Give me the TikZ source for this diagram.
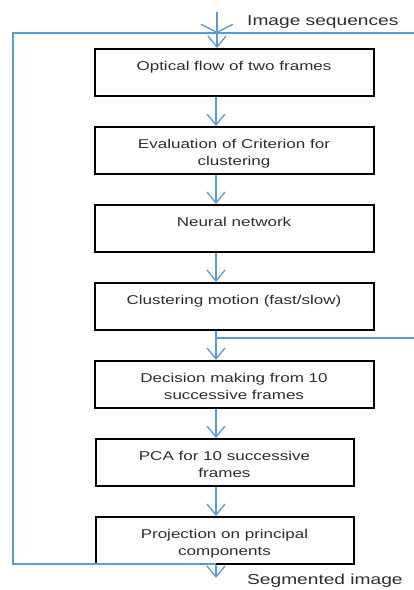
\documentclass[tikz,border=0pt]{standalone}
\usepackage{fontspec}
\setmainfont[FakeStretch=1.33]{Liberation Sans}
\usepackage{tikz}
\usetikzlibrary{arrows.meta,positioning}
\definecolor{flowblue}{RGB}{91,155,213}
\definecolor{textgrey}{RGB}{45,45,45}
\tikzstyle{blueline} = [line width=1.3pt, color=flowblue]
\tikzstyle{arrow} = [blueline, -{Straight Barb[length=11pt,width=18pt]}]
\tikzstyle{stage} = [rectangle, draw=black, line width=2pt, inner sep=0pt, minimum width=279pt, minimum height=47pt, text=textgrey, font=\fontsize{12.8}{17.5}\selectfont]
\tikzstyle{caption} = [anchor=base west, inner sep=0pt, text=textgrey, font=\fontsize{14.4}{17}\selectfont]
\newcommand{\stagetext}[2][279pt]{\parbox[t][47pt][t]{#1}{\centering\rule{0pt}{21pt}#2}}

\begin{document}
\begin{tikzpicture}[x=1pt, y=-1pt]
\useasboundingbox (0,0) rectangle (414,590);

% Processing stages
\node (optflow) [stage, anchor=north] at (234,48) {\stagetext{Optical flow of two frames}};
\node (crit) [stage, below=29pt of optflow] {\stagetext{Evaluation of Criterion for\\ clustering}};
\node (net) [stage, below=29pt of crit] {\stagetext{Neural network}};
\node (clus) [stage, below=29pt of net] {\stagetext{Clustering motion (fast/slow)}};
\node (dec) [stage, below=29pt of clus] {\stagetext{Decision making from 10\\ successive frames}};
\node (pca) [stage, below=29pt of dec.south west, anchor=north west, xshift=1pt, minimum width=258pt] {\stagetext[258pt]{PCA for 10 successive\\ frames}};
\node (proj) [stage, below=29pt of pca, minimum width=258pt] {\stagetext[258pt]{Projection on principal\\ components}};

% Input and output
\node (insrc) [caption] at (247,25) {Image sequences};
\node (outlbl) [caption] at (247,584) {Segmented image};

\coordinate (axis) at (216,0);
\coordinate (in) at (217,12);
\coordinate (join) at (217,33);
\coordinate (topleft) at (13,33);
\coordinate (topright) at (414,33);
\coordinate (botleft) at (13,564);
\coordinate (loopend) at (216,564);
\coordinate (tap) at (216,338);
\coordinate (tapright) at (414,338);
\coordinate (out) at (216,578);

% Connectors
\draw[blueline, -{Straight Barb[length=8pt,width=32pt]}] (in) -- (join);
\draw[blueline] (topright) -- (topleft) -- (botleft) -- (loopend);
\draw[arrow] (join) -- (join |- optflow.north);
\foreach \a/\b in {optflow/crit, crit/net, net/clus, clus/dec, dec/pca, pca/proj}
  \draw[arrow] (axis |- \a.south) -- (axis |- \b.north);
\draw[blueline] (tap) -- (tapright);
\draw[arrow] (axis |- proj.south) -- (out);

\end{tikzpicture}
\end{document}
